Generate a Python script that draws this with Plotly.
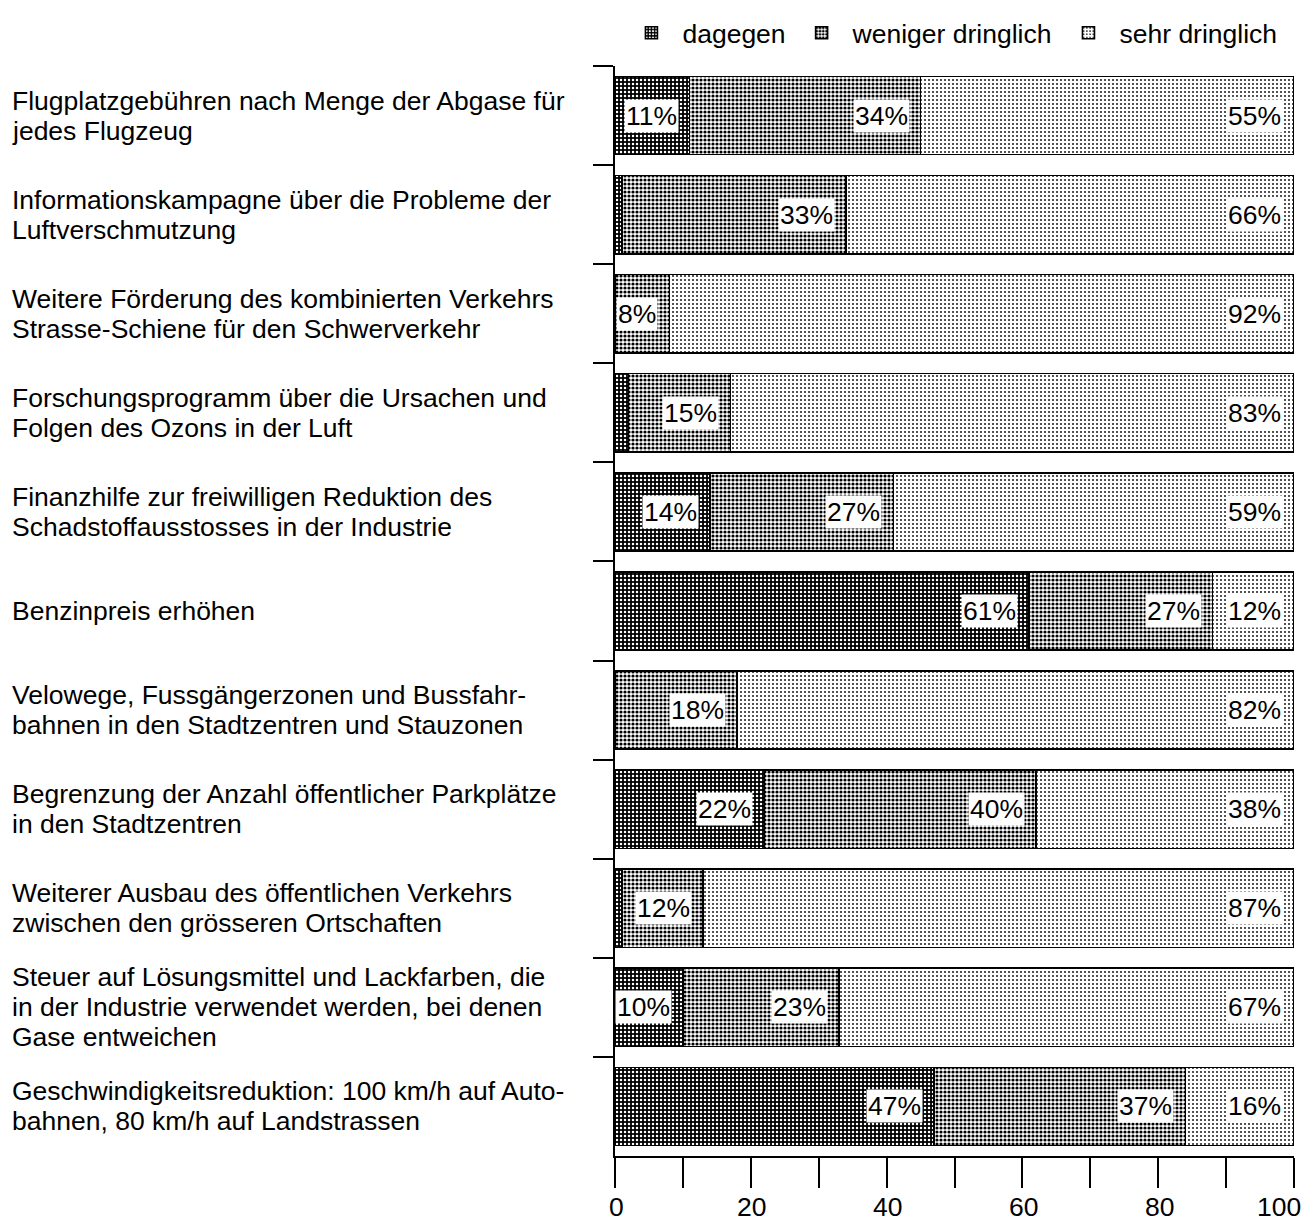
import plotly.graph_objects as go

categories = [
    "Flugplatzgebühren nach Menge der Abgase für<br>jedes Flugzeug",
    "Informationskampagne über die Probleme der<br>Luftverschmutzung",
    "Weitere Förderung des kombinierten Verkehrs<br>Strasse-Schiene für den Schwerverkehr",
    "Forschungsprogramm über die Ursachen und<br>Folgen des Ozons in der Luft",
    "Finanzhilfe zur freiwilligen Reduktion des<br>Schadstoffausstosses in der Industrie",
    "Benzinpreis erhöhen",
    "Velowege, Fussgängerzonen und Bussfahr-<br>bahnen in den Stadtzentren und Stauzonen",
    "Begrenzung der Anzahl öffentlicher Parkplätze<br>in den Stadtzentren",
    "Weiterer Ausbau des öffentlichen Verkehrs<br>zwischen den grösseren Ortschaften",
    "Steuer auf Lösungsmittel und Lackfarben, die<br>in der Industrie verwendet werden, bei denen<br>Gase entweichen",
    "Geschwindigkeitsreduktion: 100 km/h auf Auto-<br>bahnen, 80 km/h auf Landstrassen",
]
dagegen = [11, 1, 0, 2, 14, 61, 0, 22, 1, 10, 47]
weniger_dringlich = [34, 33, 8, 15, 27, 27, 18, 40, 12, 23, 37]
sehr_dringlich = [55, 66, 92, 83, 59, 12, 82, 38, 87, 67, 16]
series_names = ["dagegen", "weniger dringlich", "sehr dringlich"]
x_tickvals = [0, 20, 40, 60, 80, 100]
x_ticktext = ["0", "20", "40", "60", "80", "100"]

FONT = "Liberation Sans, Arial, Helvetica, sans-serif"
FS = 26.5

patterns = [
    dict(shape=".", bgcolor="#000000", fgcolor="#ffffff", size=4, solidity=0.3, fillmode="replace"),
    dict(shape=".", bgcolor="#ffffff", fgcolor="#000000", size=4, solidity=0.5, fillmode="replace"),
    dict(shape=".", bgcolor="#ffffff", fgcolor="#000000", size=4, solidity=0.16, fillmode="replace"),
]

fig = go.Figure()
for name, vals, pat in zip(series_names, [dagegen, weniger_dringlich, sehr_dringlich], patterns):
    fig.add_trace(go.Bar(
        y=categories, x=vals, name=name, orientation="h",
        marker=dict(color="#ffffff", pattern=pat, line=dict(color="#000000", width=1.6)),
        hoverinfo="x+name",
    ))

annotations = []
LINE_H = 30
for i, cat in enumerate(categories):
    cum = 0
    for vals in [dagegen, weniger_dringlich, sehr_dringlich]:
        v = vals[i]
        cum += v
        if v >= 5:
            annotations.append(dict(
                x=cum, y=cat, xref="x", yref="y", text=f"{v}%", showarrow=False,
                xanchor="right", yanchor="middle", xshift=-11,
                bgcolor="#ffffff", borderpad=1,
                font=dict(family=FONT, size=FS, color="#000000"),
            ))
    lines = cat.split("<br>")
    n = len(lines)
    for j, line in enumerate(lines):
        annotations.append(dict(
            x=-0.891, y=cat, xref="paper", yref="y", text=line, showarrow=False,
            xanchor="left", yanchor="middle", align="left",
            yshift=((n - 1) / 2 - j) * LINE_H,
            font=dict(family=FONT, size=FS, color="#000000"),
        ))

# x tick labels (last one kept inside the page, as in the original)
for k, (tv, tt) in enumerate(zip(x_tickvals, x_ticktext)):
    last = k == len(x_tickvals) - 1
    annotations.append(dict(
        x=tv, y=0, xref="x", yref="paper", text=tt, showarrow=False,
        xanchor="right" if last else "center", yanchor="middle",
        xshift=8 if last else 1, yshift=-51, borderpad=0,
        font=dict(family=FONT, size=FS, color="#000000"),
    ))

fig.update_layout(
    barmode="stack",
    bargap=0.21,
    width=1303, height=1218,
    margin=dict(l=607, r=17, t=58, b=70, autoexpand=False),
    paper_bgcolor="#ffffff", plot_bgcolor="#ffffff",
    font=dict(family=FONT, size=FS, color="#000000"),
    showlegend=True,
    legend=dict(orientation="h", xref="paper", yref="paper",
                x=0.008, xanchor="left", y=1.0303, yanchor="middle",
                font=dict(family=FONT, size=FS), traceorder="normal",
                itemwidth=52, tracegroupgap=0, bgcolor="rgba(0,0,0,0)"),
    annotations=annotations,
    xaxis=dict(
        range=[0, 100], showgrid=False, zeroline=False,
        showline=True, linecolor="#000000", linewidth=2,
        tickmode="array", tickvals=x_tickvals, ticktext=x_ticktext,
        showticklabels=False,
        ticks="outside", ticklen=30, tickwidth=2, tickcolor="#000000",
        minor=dict(dtick=10, ticks="outside", ticklen=30, tickwidth=2, tickcolor="#000000", showgrid=False),
    ),
    yaxis=dict(
        type="category", categoryorder="array", categoryarray=categories,
        autorange="reversed", showgrid=False, zeroline=False,
        showline=True, linecolor="#000000", linewidth=2,
        ticks="outside", tickson="boundaries", ticklen=20, tickwidth=2, tickcolor="#000000",
        showticklabels=False,
    ),
)

fig.write_html("out.html")
